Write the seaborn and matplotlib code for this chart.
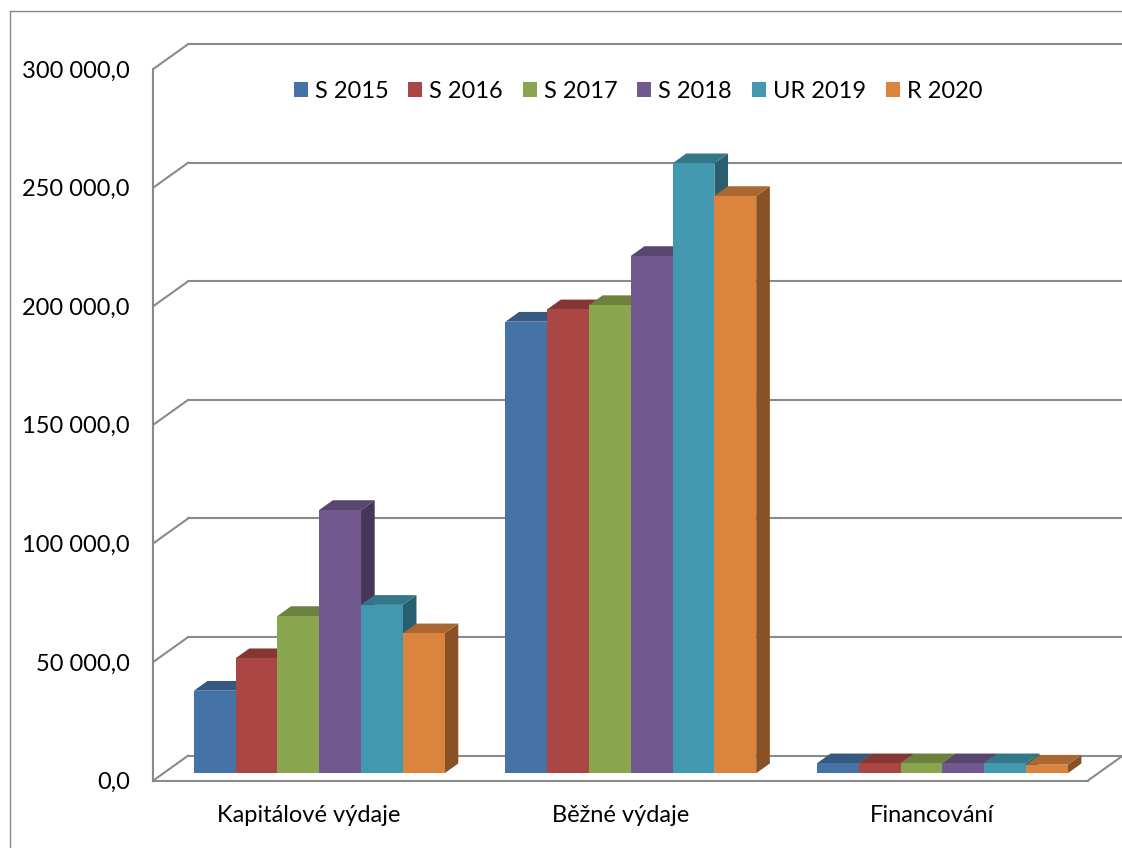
import pandas as pd
import matplotlib
matplotlib.use('Agg')
import matplotlib.pyplot as plt
from matplotlib.patches import Polygon, Patch
from matplotlib.lines import Line2D
import matplotlib.colors as mcolors
import seaborn as sns

categories = ['Kapitálové výdaje', 'Běžné výdaje', 'Financování']
series = ['S 2015', 'S 2016', 'S 2017', 'S 2018', 'UR 2019', 'R 2020']
s2015 = [34800, 190400, 4200]
s2016 = [48500, 195600, 4200]
s2017 = [66300, 197400, 4200]
s2018 = [111000, 218100, 4200]
ur2019 = [71000, 257200, 4200]
r2020 = [59000, 243400, 3600]
colors = ['#4572A7', '#AA4643', '#89A54E', '#71588F', '#4198AF', '#DB843D']
y_ticks = [0, 50000, 100000, 150000, 200000, 250000, 300000]

rows = []
for name, vals in zip(series, [s2015, s2016, s2017, s2018, ur2019, r2020]):
    for cat, v in zip(categories, vals):
        rows.append({'category': cat, 'series': name, 'value': v})
df = pd.DataFrame(rows)

sns.set_style('white')
plt.rcParams['font.family'] = ['Lato', 'DejaVu Sans']
fs = 17
grid = '#8a8a8a'

W, H = 1122, 848
fig = plt.figure(figsize=(W / 100, H / 100), dpi=100)
# front plane of the 3d box, in pixels
x0, x1, y0, y1 = 153.3, 1088.0, 780.5, 69.0
ax = fig.add_axes([x0 / W, 1 - y0 / H, (x1 - x0) / W, (y0 - y1) / H])

sns.barplot(data=df, x='category', y='value', hue='series', order=categories,
            hue_order=series, palette=colors, saturation=1, width=0.805,
            errorbar=None, legend=False, linewidth=0, ax=ax)
ax.set_xlim(-0.5, 2.5)
ax.set_ylim(0, 300000)

# data units per pixel
sx = 3.0 / (x1 - x0)
sy = 300000 / (y0 - y1)
bx, by = 35 * sx, 25 * sy            # depth of the whole box
f0, f1 = 0.29, 0.68                  # bar depth range (fraction of box depth)

# back wall gridlines + left wall diagonals
for t in y_ticks:
    ax.plot([-0.5, -0.5 + bx], [t, t + by], color=grid, lw=1.5, clip_on=False, zorder=1)
    ax.plot([-0.5 + bx, 2.5 + bx], [t + by, t + by], color=grid, lw=1.5, clip_on=False, zorder=1)
ax.plot([2.5, 2.5 + bx], [0, by], color=grid, lw=1.5, clip_on=False, zorder=1)

# fake 3d: shift front faces back and add top + side faces
patches = sorted([p for c in ax.containers for p in c], key=lambda p: p.get_x())
z = 3
for p in patches:
    x, w, h = p.get_x(), p.get_width(), p.get_height()
    base = mcolors.to_rgb(p.get_facecolor())
    top_c = tuple(v * 0.78 for v in base)
    side_c = tuple(v * 0.62 for v in base)
    xf, yf = x + f0 * bx, f0 * by
    dx, dy = (f1 - f0) * bx, (f1 - f0) * by
    side = Polygon([(xf + w, yf), (xf + w + dx, yf + dy), (xf + w + dx, yf + h + dy), (xf + w, yf + h)],
                   closed=True, facecolor=side_c, edgecolor='none', zorder=z, clip_on=False)
    top = Polygon([(xf, yf + h), (xf + w, yf + h), (xf + w + dx, yf + h + dy), (xf + dx, yf + h + dy)],
                  closed=True, facecolor=top_c, edgecolor='none', zorder=z + 1, clip_on=False)
    ax.add_patch(side)
    ax.add_patch(top)
    p.set_x(xf)
    p.set_y(yf)
    p.set_zorder(z + 2)
    p.set_clip_on(False)
    z += 3

for s in ['top', 'right']:
    ax.spines[s].set_visible(False)
for s in ['left', 'bottom']:
    ax.spines[s].set_color(grid)
    ax.spines[s].set_linewidth(1.5)
    ax.spines[s].set_zorder(2)

ax.set_yticks(y_ticks)
ax.set_yticklabels([f'{v:,.1f}'.replace(',', ' ').replace('.', ',') for v in y_ticks])
ax.tick_params(axis='y', length=6, width=1.5, color=grid, pad=11, labelsize=fs, labelcolor='black')
ax.set_xticks(range(len(categories)))
ax.set_xticklabels(categories)
ax.tick_params(axis='x', which='major', length=0, pad=18, labelsize=fs, labelcolor='black')
ax.set_xticks([-0.5, 0.5, 1.5, 2.5], minor=True)
ax.tick_params(axis='x', which='minor', length=6, width=1.5, color=grid)
ax.set_xlabel('')
ax.set_ylabel('')

handles = [Patch(facecolor=c, edgecolor='none') for c in colors]
fig.legend(handles, series, loc='center', bbox_to_anchor=(638 / W, 1 - 91.7 / H), ncol=6,
           frameon=False, fontsize=fs, handlelength=0.6, handleheight=0.6,
           handletextpad=0.3, columnspacing=0.83, labelcolor='black')

# outer chart border (left and top edges are the visible ones)
fig.add_artist(Line2D([10 / W, 10 / W], [0, 1 - 11 / H], transform=fig.transFigure, color='#868686', lw=1))
fig.add_artist(Line2D([10 / W, 1], [1 - 11 / H, 1 - 11 / H], transform=fig.transFigure, color='#868686', lw=1))

fig.savefig('out.png', dpi=100)
